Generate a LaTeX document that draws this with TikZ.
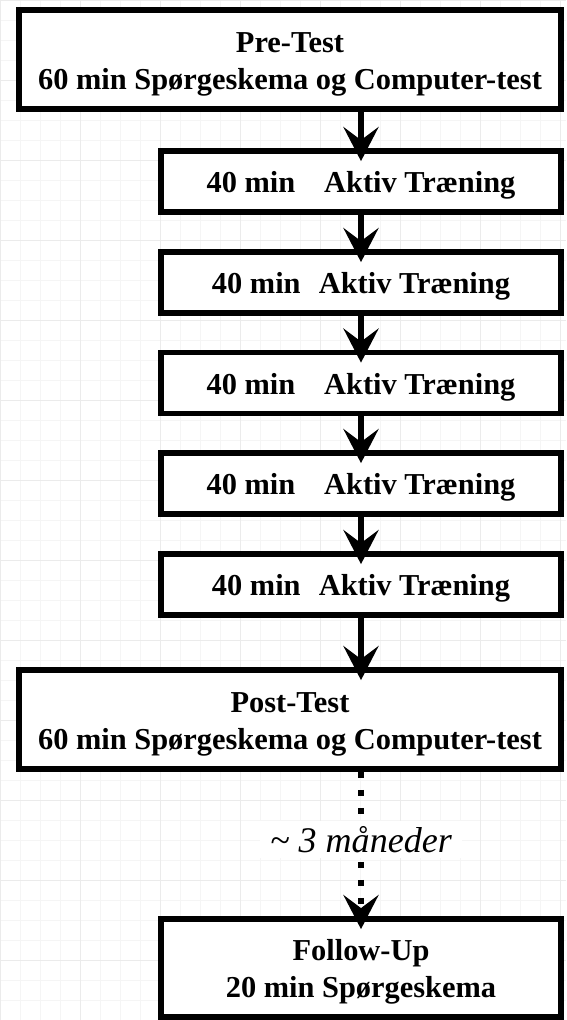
\documentclass[tikz,border=0pt]{standalone}
\usepackage{fontspec}
\setmainfont{Liberation Serif}
\usetikzlibrary{arrows.meta}
\newcommand{\lowtext}{\rule{0pt}{0.95em}}

\begin{document}
\begin{tikzpicture}[x=0.2mm, y=-0.2mm,
    box/.style={draw, line width=1.15mm, fill=white, minimum width=80mm, minimum height=12.2mm, inner sep=0pt, align=center, font=\fontsize{17.3}{21}\selectfont\bfseries},
    bigbox/.style={box, minimum width=108.4mm, minimum height=19.8mm},
    flow/.style={line width=1.1mm, -{Stealth[length=6.8mm, width=7mm, inset=2.6mm]}, shorten >=-2.6mm},
    later/.style={flow, dash pattern=on 1.2mm off 2.4mm}]
    \useasboundingbox (0,0) rectangle (566,1020);
    % background grid
    \draw [black!4, line width=0.2mm, step=4mm] (0,0) grid (566,1020);
    \draw [black!8, line width=0.2mm, step=16mm] (0,0) grid (566,1020);

    \node [bigbox] (pre) at (290,59.5) {\lowtext Pre-Test\\60 min Spørgeskema og Computer-test};
    \node [box] (t1) at (361,181.5) {\lowtext 40 min\hspace{0.95em}Aktiv Træning};
    \node [box] (t2) at (361,282.5) {\lowtext 40 min\hspace{0.6em}Aktiv Træning};
    \node [box] (t3) at (361,383) {\lowtext 40 min\hspace{0.95em}Aktiv Træning};
    \node [box] (t4) at (361,483.5) {\lowtext 40 min\hspace{0.95em}Aktiv Træning};
    \node [box] (t5) at (361,584.5) {\lowtext 40 min\hspace{0.6em}Aktiv Træning};
    \node [bigbox] (post) at (290,719.5) {\lowtext Post-Test\\60 min Spørgeskema og Computer-test};
    \node [box, minimum height=19.6mm] (follow) at (361,968) {\lowtext Follow-Up\\20 min Spørgeskema};

    \draw [flow] (t1.north |- pre.south) -- (t1.north);
    \draw [flow] (t1) -- (t2);
    \draw [flow] (t2) -- (t3);
    \draw [flow] (t3) -- (t4);
    \draw [flow] (t4) -- (t5);
    \draw [flow] (t5) -- (post.north -| t5.south);
    \draw [later] (follow.north |- post.south) -- node [pos=0.47, fill=white, inner xsep=2mm, inner ysep=1mm, font=\fontsize{20.5}{21}\selectfont\itshape] (gap) {\textasciitilde{} 3 måneder} (follow.north);
\end{tikzpicture}
\end{document}
